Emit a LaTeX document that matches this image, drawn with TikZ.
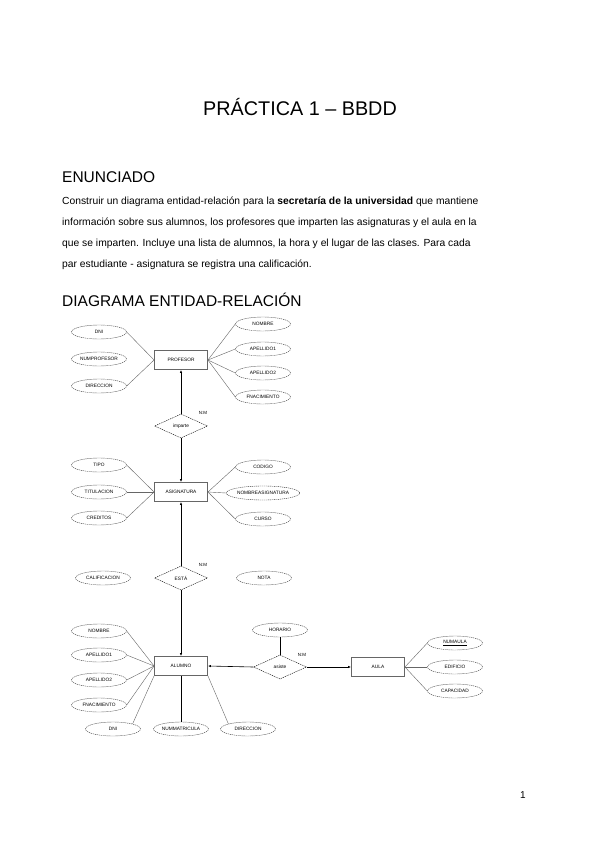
\documentclass[tikz,border=0pt]{standalone}
\usepackage{fontspec}
\setmainfont{Liberation Sans}
\usetikzlibrary{shapes.geometric,arrows.meta}
\begin{document}
\begin{tikzpicture}[x=1pt,y=-1pt,
  attr/.style={draw=black!80,dashed,dash pattern=on 1.2pt off 0.8pt,ellipse,minimum width=55pt,minimum height=14pt,inner sep=0pt,font=\fontsize{4.8}{5}\selectfont},
  ent/.style={draw=black!60,line width=0.9pt,minimum width=53pt,minimum height=19pt,inner sep=0pt,font=\fontsize{4.8}{5}\selectfont},
  rel/.style={draw=black,dashed,dash pattern=on 1.2pt off 0.8pt,diamond,aspect=2.2,minimum width=53pt,minimum height=24pt,inner sep=0pt,font=\fontsize{4.8}{5}\selectfont},
  card/.style={font=\fontsize{4.5}{5}\selectfont},
  aline/.style={draw=black!60,line width=0.4pt},
  rline/.style={draw=black,line width=0.6pt},
  arr/.style={-{Latex[length=3pt,width=2.5pt]}}
]
\useasboundingbox[fill=white] (0,0) rectangle (599,848);
% texts
\node (title) [font=\fontsize{19.8}{22}\selectfont] at (300,107) {PRÁCTICA 1 – BBDD};
\node (h1) [anchor=base west,inner sep=0pt,font=\fontsize{15.5}{18}\selectfont] at (62,182) {ENUNCIADO};
\node (p1) [anchor=base west,inner sep=0pt,font=\fontsize{10.3}{12}\selectfont] at (62,204) {Construir un diagrama entidad-relación para la \textbf{secretaría de la universidad} que mantiene};
\node (p2) [anchor=base west,inner sep=0pt,font=\fontsize{10.3}{12}\selectfont] at (62,225) {información sobre sus alumnos, los profesores que imparten las asignaturas y el aula en la};
\node (p3) [anchor=base west,inner sep=0pt,font=\fontsize{10.3}{12}\selectfont] at (62,246) {que se imparten. Incluye una lista de alumnos, la hora y el lugar de las clases. Para cada};
\node (p4) [anchor=base west,inner sep=0pt,font=\fontsize{10.3}{12}\selectfont] at (62,267) {par estudiante - asignatura se registra una calificación.};
\node (h2) [anchor=base west,inner sep=0pt,font=\fontsize{15.5}{18}\selectfont] at (62,306) {DIAGRAMA ENTIDAD-RELACIÓN};
\node (pg) [font=\fontsize{10}{12}\selectfont] at (523,795) {1};

% PROFESOR
\node[ent] (prof) at (181,360) {PROFESOR};
\node[attr] (pdni) at (99,332) {DNI};
\node[attr] (pnum) at (99,359) {NUMPROFESOR};
\node[attr] (pdir) at (99,386) {DIRECCION};
\node[attr] (pnom) at (263,324) {NOMBRE};
\node[attr] (pap1) at (263,349) {APELLIDO1};
\node[attr] (pap2) at (263,373) {APELLIDO2};
\node[attr] (pfn) at (263,397) {FNACIMIENTO};
\draw[aline] (pdni.east) -- (prof.west);
\draw[aline] (pdir.east) -- (prof.west);
\foreach \a in {pnom,pap1,pap2,pfn} \draw[aline] (prof.east) -- (\a.west);

% imparte
\node[rel] (imp) at (181,426) {imparte};
\node[card] (c1) at (203,413) {N:M};
\draw[rline,arr] (imp.north) -- (prof.south);

% ASIGNATURA
\node[ent] (asig) at (181,492) {ASIGNATURA};
\node[attr] (atipo) at (99,465) {TIPO};
\node[attr] (atit) at (99,492) {TITULACION};
\node[attr] (acred) at (99,518) {CREDITOS};
\node[attr] (acod) at (263,467) {CODIGO};
\node[attr,minimum width=58pt] (anom) at (263,493) {NOMBREASIGNATURA};
\node[attr] (acur) at (263,519) {CURSO};
\foreach \a in {atipo,atit,acred} \draw[aline] (\a.east) -- (asig.west);
\foreach \a in {acod,anom,acur} \draw[aline] (asig.east) -- (\a.west);
\draw[rline,arr] (imp.south) -- (asig.north);

% esta
\node[rel] (esta) at (181,578) {ESTÁ};
\node[card] (c2) at (203,565) {N:M};
\node[attr] (cal) at (103,578) {CALIFICACION};
\node[attr] (nota) at (264,578) {NOTA};
\draw[rline,arr] (esta.north) -- (asig.south);

% ALUMNO
\node[ent] (alu) at (181,666) {ALUMNO};
\node[attr] (lnom) at (99,631) {NOMBRE};
\node[attr] (lap1) at (99,655) {APELLIDO1};
\node[attr] (lap2) at (99,680) {APELLIDO2};
\node[attr] (lfn) at (99,705) {FNACIMIENTO};
\node[attr] (ldni) at (113,729) {DNI};
\node[attr] (lmat) at (181,729) {NUMMATRICULA};
\node[attr] (ldir) at (248,729) {DIRECCION};
\foreach \a in {lnom,lap1,lap2,lfn} \draw[aline] (\a.east) -- (alu.west);
\draw[aline] (ldni.north east) -- (alu.south west);
\draw[rline] (lmat.north) -- (alu.south);
\draw[aline] (ldir.north west) -- (alu.south east);
\draw[rline,arr] (esta.south) -- (alu.north);

% asiste
\node[rel] (asi) at (280,667) {asiste};
\node[card] (c3) at (302,655) {N:M};
\node[attr] (hor) at (280,630) {HORARIO};
\draw[rline] (hor.south) -- (asi.north);
\draw[rline,arr] (asi.west) -- (alu.east);

% AULA
\node[ent] (aula) at (378,667) {AULA};
\node[attr] (unum) at (455,643) {\underline{NUMAULA}};
\node[attr] (uedi) at (455,667) {EDIFICIO};
\node[attr] (ucap) at (455,691) {CAPACIDAD};
\foreach \a in {unum,uedi,ucap} \draw[aline] (aula.east) -- (\a.west);
\draw[rline,arr] (asi.east) -- (aula.west);
\end{tikzpicture}
\end{document}
